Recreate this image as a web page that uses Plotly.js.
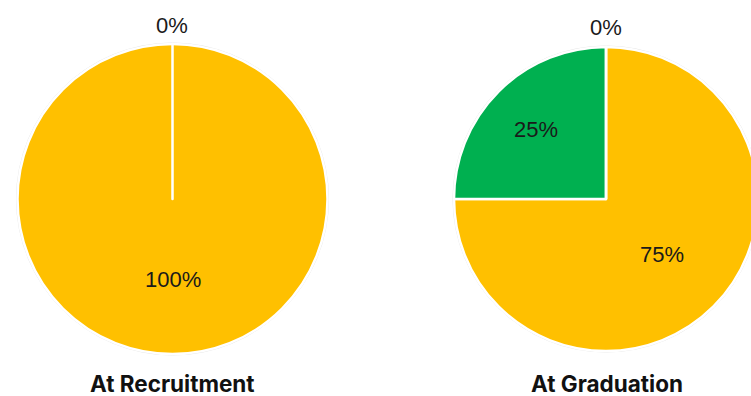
<!DOCTYPE html>
<html>
<head>
<meta charset="utf-8">
<script src="https://cdn.plot.ly/plotly-3.0.1.min.js"></script>
<style>
html,body{margin:0;padding:0;overflow:hidden;background:#fff;width:751px;height:396px;}
#chart{width:770px;height:396px;}
</style>
</head>
<body>
<div id="chart"></div>
<script>
// Data
var recruitmentLabels = ["Category A", "Category C"];
var recruitmentValues = [100, 0];
var graduationLabels = ["Category A", "Category B", "Category C"];
var graduationValues = [75, 25, 0];
var chartTitles = ["At Recruitment", "At Graduation"];

var YELLOW = "#FFC000", GREEN = "#00B050";
var W = 770, H = 396;
var LABEL_FONT = {family: "Liberation Sans, Arial, sans-serif", size: 22, color: "#1a1a1a"};

function dom(cx, cyTop, r) {
  var cy = H - cyTop;
  return {x: [(cx - r) / W, (cx + r) / W], y: [(cy - r) / H, (cy + r) / H]};
}

// label annotations computed from the slice values (clockwise from 12 o'clock)
function sliceLabels(values, cx, cyTop, r, insideFrac, outsideGap) {
  var total = values.reduce(function (a, b) { return a + b; }, 0);
  var cum = 0, out = [];
  values.forEach(function (v, i) {
    var mid = (cum + v / 2) / total * 2 * Math.PI;
    cum += v;
    var pct = Math.round(v / total * 100) + "%";
    var rr = v === 0 ? r + outsideGap : r * insideFrac[i];
    var x = cx + rr * Math.sin(mid), y = cyTop - rr * Math.cos(mid);
    out.push({text: pct, x: x / W, y: (H - y) / H, xref: "paper", yref: "paper",
      showarrow: false, xanchor: "center", yanchor: "middle", font: LABEL_FONT});
  });
  return out;
}

var common = {
  type: "pie", sort: false, direction: "clockwise", rotation: 0,
  textinfo: "none", hoverinfo: "label+percent", showlegend: false
};

var P1 = {cx: 172.5, cy: 199, r: 155};
var P2 = {cx: 606, cy: 199, r: 152};

var t1 = Object.assign({}, common, {
  labels: recruitmentLabels, values: recruitmentValues,
  domain: dom(P1.cx, P1.cy, P1.r),
  marker: {colors: [YELLOW, GREEN], line: {color: "#ffffff", width: 2.5}}
});
var t2 = Object.assign({}, common, {
  labels: graduationLabels, values: graduationValues,
  domain: dom(P2.cx, P2.cy, P2.r),
  marker: {colors: [YELLOW, GREEN, "#A5A5A5"], line: {color: "#ffffff", width: 2.5}}
});

var ann = []
  .concat(sliceLabels(recruitmentValues, P1.cx, P1.cy, P1.r, [0.52, 0], 19))
  .concat(sliceLabels(graduationValues, P2.cx, P2.cy, P2.r, [0.52, 0.65, 0], 20));

ann.push({text: "<b>" + chartTitles[0] + "</b>", x: 172 / W, y: (H - 383) / H, xref: "paper", yref: "paper",
  showarrow: false, xanchor: "center", yanchor: "middle", borderpad: 0,
  font: {family: "Inter, sans-serif", size: 22.5, color: "#111111"}});
ann.push({text: "<b>" + chartTitles[1] + "</b>", x: 606.5 / W, y: (H - 383) / H, xref: "paper", yref: "paper",
  showarrow: false, xanchor: "center", yanchor: "middle", borderpad: 0,
  font: {family: "Inter, sans-serif", size: 22.5, color: "#111111"}});

var layout = {
  width: W, height: H,
  margin: {l: 0, r: 0, t: 0, b: 0},
  paper_bgcolor: "#ffffff",
  shapes: [
    {type: "circle", xref: "paper", yref: "paper", layer: "below",
     x0: (P1.cx - P1.r - 1) / W, x1: (P1.cx + P1.r + 1) / W,
     y0: (H - P1.cy - P1.r - 1) / H, y1: (H - P1.cy + P1.r + 1) / H,
     line: {color: "#e4e4e4", width: 1}},
    {type: "circle", xref: "paper", yref: "paper", layer: "below",
     x0: (P2.cx - P2.r - 1) / W, x1: (P2.cx + P2.r + 1) / W,
     y0: (H - P2.cy - P2.r - 1) / H, y1: (H - P2.cy + P2.r + 1) / H,
     line: {color: "#e4e4e4", width: 1}}
  ],
  annotations: ann
};

Plotly.newPlot("chart", [t1, t2], layout, {displayModeBar: false, staticPlot: true});
</script>
</body>
</html>
